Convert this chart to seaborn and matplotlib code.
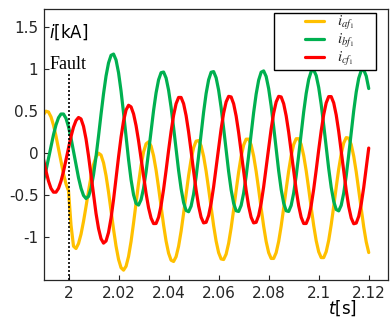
import numpy as np
import pandas as pd
import seaborn as sns
import matplotlib
matplotlib.use("Agg")
import matplotlib.pyplot as plt
from matplotlib.patches import Rectangle
from matplotlib.lines import Line2D
from matplotlib.font_manager import FontProperties

# time axis in ms (1.990 s ... 2.120 s, one sample per ms)
t_ms_start = 1990
t_ms_end = 2120

i_af = [0.457, 0.498, 0.488, 0.431, 0.332, 0.202, 0.052, -0.103, -0.247, -0.366,
        -0.447, -0.854, -1.106, -1.133, -1.074, -0.963, -0.811, -0.635, -0.451, -0.280,
        -0.138, -0.043, -0.001, -0.023, -0.115, -0.267, -0.463, -0.684, -0.905, -1.105,
        -1.262, -1.361, -1.390, -1.344, -1.227, -1.050, -0.830, -0.590, -0.357, -0.148,
        0.013, 0.110, 0.134, 0.084, -0.032, -0.202, -0.410, -0.635, -0.854, -1.045,
        -1.188, -1.272, -1.287, -1.230, -1.106, -0.929, -0.715, -0.487, -0.267, -0.077,
        0.064, 0.142, 0.149, 0.087, -0.038, -0.214, -0.424, -0.647, -0.861, -1.045,
        -1.182, -1.257, -1.264, -1.200, -1.071, -0.889, -0.673, -0.444, -0.226, -0.040,
        0.095, 0.166, 0.166, 0.097, -0.035, -0.217, -0.430, -0.655, -0.868, -1.050,
        -1.182, -1.251, -1.251, -1.182, -1.049, -0.867, -0.653, -0.427, -0.213, -0.031,
        0.102, 0.171, 0.171, 0.102, -0.029, -0.210, -0.423, -0.647, -0.860, -1.041,
        -1.172, -1.241, -1.241, -1.170, -1.036, -0.850, -0.633, -0.405, -0.190, -0.009,
        0.120, 0.184, 0.177, 0.101, -0.037, -0.223, -0.440, -0.665, -0.877, -1.055,
        -1.181]

i_bf = [-0.324, -0.205, -0.065, 0.080, 0.218, 0.335, 0.420, 0.464, 0.464, 0.412,
        0.313, 0.178, 0.021, -0.140, -0.292, -0.417, -0.503, -0.539, -0.515, -0.419,
        -0.256, -0.041, 0.203, 0.461, 0.705, 0.915, 1.071, 1.161, 1.176, 1.106,
        0.955, 0.738, 0.476, 0.195, -0.077, -0.315, -0.495, -0.598, -0.617, -0.554,
        -0.418, -0.223, 0.013, 0.264, 0.506, 0.715, 0.870, 0.955, 0.963, 0.892,
        0.748, 0.545, 0.303, 0.045, -0.205, -0.421, -0.587, -0.681, -0.696, -0.630,
        -0.487, -0.281, -0.034, 0.231, 0.486, 0.707, 0.870, 0.960, 0.968, 0.895,
        0.748, 0.541, 0.294, 0.032, -0.219, -0.436, -0.596, -0.685, -0.693, -0.621,
        -0.476, -0.272, -0.029, 0.231, 0.482, 0.700, 0.866, 0.961, 0.976, 0.910,
        0.766, 0.560, 0.312, 0.046, -0.210, -0.431, -0.594, -0.685, -0.693, -0.621,
        -0.475, -0.270, -0.025, 0.236, 0.489, 0.708, 0.875, 0.970, 0.986, 0.921,
        0.780, 0.578, 0.333, 0.071, -0.184, -0.406, -0.573, -0.670, -0.686, -0.620,
        -0.476, -0.269, -0.020, 0.247, 0.503, 0.725, 0.889, 0.980, 0.988, 0.915,
        0.767]

i_cf = [-0.074, -0.213, -0.332, -0.419, -0.464, -0.464, -0.419, -0.333, -0.217, -0.080,
        0.063, 0.197, 0.309, 0.387, 0.423, 0.406, 0.318, 0.168, -0.033, -0.263,
        -0.498, -0.717, -0.895, -1.017, -1.069, -1.044, -0.942, -0.773, -0.552, -0.301,
        -0.046, 0.189, 0.382, 0.512, 0.568, 0.549, 0.466, 0.327, 0.146, -0.061,
        -0.277, -0.478, -0.650, -0.772, -0.837, -0.836, -0.762, -0.623, -0.431, -0.206,
        0.031, 0.256, 0.448, 0.587, 0.661, 0.661, 0.587, 0.446, 0.252, 0.025,
        -0.213, -0.438, -0.627, -0.762, -0.829, -0.822, -0.741, -0.596, -0.400, -0.172,
        0.064, 0.287, 0.475, 0.608, 0.674, 0.667, 0.586, 0.441, 0.245, 0.017,
        -0.219, -0.442, -0.630, -0.763, -0.829, -0.822, -0.741, -0.596, -0.400, -0.172,
        0.064, 0.287, 0.475, 0.608, 0.674, 0.667, 0.587, 0.443, 0.249, 0.023,
        -0.212, -0.436, -0.625, -0.763, -0.836, -0.836, -0.762, -0.622, -0.429, -0.202,
        0.037, 0.264, 0.457, 0.597, 0.671, 0.671, 0.596, 0.453, 0.257, 0.026,
        -0.215, -0.443, -0.635, -0.771, -0.839, -0.831, -0.751, -0.605, -0.407, -0.178,
        0.060]

series_labels = [r"$i_{af_1}$", r"$i_{bf_1}$", r"$i_{cf_1}$"]
series_colors = ["#FFC000", "#00B050", "#FF0000"]

fault_time = 2.0
x_ticks = [2.0, 2.02, 2.04, 2.06, 2.08, 2.10, 2.12]
x_tick_labels = ["2", "2.02", "2.04", "2.06", "2.08", "2.1", "2.12"]
y_ticks = [-1.0, -0.5, 0.0, 0.5, 1.0, 1.5]
y_tick_labels = ["-1", "-0.5", "0", "0.5", "1", "1.5"]

time_s = np.arange(t_ms_start, t_ms_end + 1) / 1000.0
df = pd.DataFrame({
    "t": np.tile(time_s, 3),
    "i": np.concatenate([i_af, i_bf, i_cf]),
    "phase": np.repeat(series_labels, len(time_s)),
})

sns.set_style("ticks")
plt.rcParams["font.family"] = ["DejaVu Sans"]
plt.rcParams["axes.unicode_minus"] = False

fig = plt.figure(figsize=(3.91, 3.20), dpi=100)
ax = fig.add_axes([0.1125, 0.125, 0.8811, 0.846])

sns.lineplot(data=df, x="t", y="i", hue="phase", palette=series_colors,
             linewidth=2.3, ax=ax, legend=False, estimator=None, sort=False)

ax.set_xlim(1.9902, 2.1279)
ax.set_ylim(-1.507, 1.708)

# fault marker
ax.axvline(fault_time, ymin=0, ymax=0.764, color="black", linestyle=(0, (1.2, 1.2)), linewidth=1.2)
ax.text(0.016, 0.778, "Fault", transform=ax.transAxes, fontsize=13,
        family="Liberation Serif", color="black", va="baseline")

ax.set_xticks(x_ticks)
ax.set_xticklabels(x_tick_labels)
ax.set_yticks(y_ticks)
ax.set_yticklabels(y_tick_labels)
ax.tick_params(direction="in", length=3.5, width=0.8, colors="#262626",
               labelsize=11, top=False, right=False, pad=4)
for sp in ax.spines.values():
    sp.set_visible(True)
    sp.set_color("#262626")
    sp.set_linewidth(0.9)
ax.set_xlabel("")
ax.set_ylabel("")

ax.text(0.014, 0.950, r"$i$[kA]", transform=ax.transAxes, fontsize=12,
        va="top", ha="left", color="black")
ax.text(0.866, -0.103, r"$t$[s]", transform=ax.transAxes, fontsize=12,
        va="center", ha="center", color="black")

# legend
handles = [Line2D([], [], color=c, linewidth=2.3) for c in series_colors]
leg = ax.legend(handles, series_labels, loc="upper left",
                bbox_to_anchor=(0.758, 0.983), frameon=False,
                prop=FontProperties(math_fontfamily="stix", size=11),
                handlelength=1.25, handletextpad=0.85, labelspacing=0.0,
                borderpad=0.0, borderaxespad=0.0)
leg.set_zorder(5)
fig.canvas.draw()
lb = leg.get_window_extent().transformed(ax.transAxes.inverted())
box_bottom = lb.y0 - 0.006
box_top = 0.985
ax.add_patch(Rectangle((0.668, box_bottom), 0.296, box_top - box_bottom,
                       transform=ax.transAxes, fill=True, facecolor="white",
                       edgecolor="black", linewidth=1.0, zorder=4))

fig.savefig("out.png", dpi=100)
